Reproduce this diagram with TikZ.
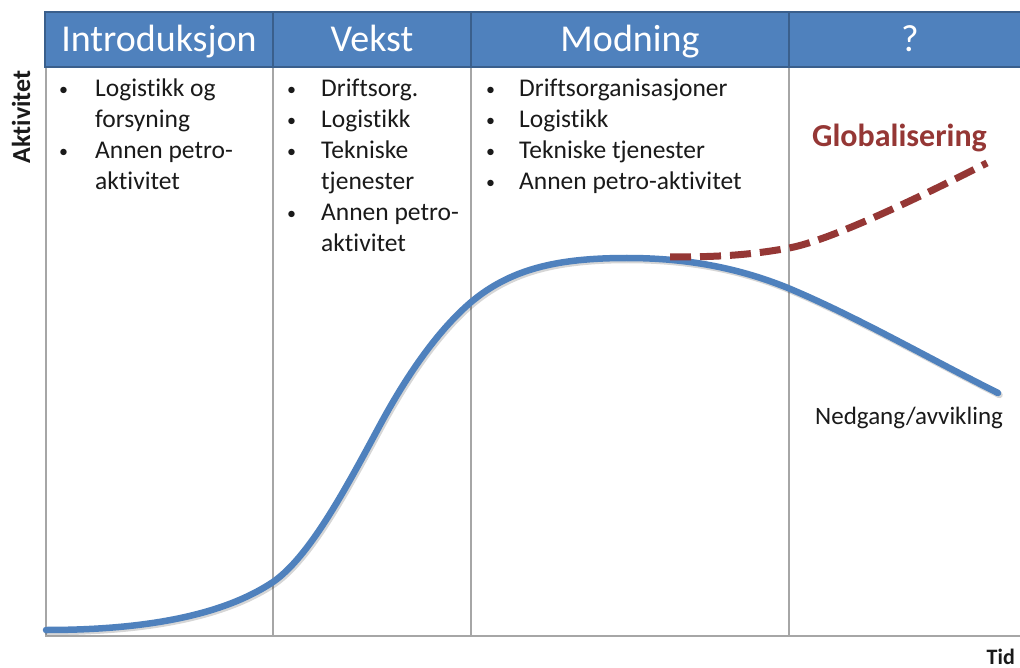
\documentclass[tikz,border=0pt]{standalone}
\usepackage{fontspec}
\setmainfont{Carlito}[Ligatures=NoCommon]
\definecolor{headblue}{HTML}{4F81BD}
\definecolor{headedge}{HTML}{3A5F8C}
\definecolor{gridgray}{HTML}{A6A6A6}
\definecolor{curveblue}{HTML}{4F81BD}
\definecolor{trendred}{HTML}{953735}
\definecolor{inkdark}{HTML}{1A1A1A}
% small list bullet
\newcommand{\itemdot}{\raisebox{1.5pt}{\fontsize{18}{18}\selectfont\textbullet}}
\begin{document}
\begin{tikzpicture}[x=1pt,y=-1pt,
  gridline/.style={draw=gridgray, line width=2pt},
  headcell/.style={draw=headedge, fill=headblue, line width=2pt, text=white,
    inner sep=0pt, minimum height=55pt, text height=40pt, text depth=15pt,
    font=\fontsize{38}{42}\selectfont},
  items/.style={anchor=base west, inner sep=0pt, text=inkdark,
    font=\fontsize{25.5}{31}\selectfont},
  axislabel/.style={inner sep=0pt, text=inkdark},
  lifecurve/.style={draw=curveblue, line width=6.5pt, line cap=round},
  curveshadow/.style={draw=black, opacity=0.16, line width=6.5pt, line cap=round},
  trend/.style={draw=trendred, line width=7pt, dash pattern=on 21pt off 9pt}]
\clip (0,0) rectangle (1020,668);
\fill[white] (0,0) rectangle (1020,668);

% frame and column dividers
\draw[gridline] (46,67) -- (46,636) -- (1020,636);
\foreach \xx in {273,471,789} \draw[gridline] (\xx,67) -- (\xx,636);

% phase headers
\node[headcell, minimum width=228pt] (h1) at (159,39.5) {Introduksjon};
\node[headcell, minimum width=198pt] (h2) at (372,39.5) {Vekst};
\node[headcell, minimum width=318pt] (h3) at (630,39.5) {Modning};
\node[headcell, minimum width=242pt] (h4) at (910,39.5) {?};

% activities per phase
\node[items] (c1) at (59,97) {\begin{tabular}[t]{@{}p{36pt}@{}l@{}}
\itemdot & Logistikk og\\ & forsyning\\
\itemdot & Annen petro-\\ & aktivitet\end{tabular}};
\node[items] (c2) at (287,97) {\begin{tabular}[t]{@{}p{34pt}@{}l@{}}
\itemdot & Driftsorg.\\
\itemdot & Logistikk\\
\itemdot & Tekniske\\ & tjenester\\
\itemdot & Annen petro-\\ & aktivitet\end{tabular}};
\node[items] (c3) at (486,97) {\begin{tabular}[t]{@{}p{33pt}@{}l@{}}
\itemdot & Driftsorganisasjoner\\
\itemdot & Logistikk\\
\itemdot & Tekniske tjenester\\
\itemdot & Annen petro-aktivitet\end{tabular}};

% axis labels
\node[axislabel, rotate=90, font=\bfseries\fontsize{26}{28}\selectfont] (yl) at (21,117) {Aktivitet};
\node[axislabel, anchor=base east, font=\bfseries\fontsize{22}{24}\selectfont] (xl) at (1015,664) {Tid};

% life-cycle curve, first its soft shadow
\begin{scope}[xshift=1.5pt, yshift=-2pt]
\draw[curveshadow] (46,630) .. controls (150,630) and (225,614) .. (273,582)
  .. controls (309,557) and (344,492) .. (380,425)
  .. controls (410,369.5) and (440,329) .. (470,303)
  .. controls (510,269) and (557,258) .. (627,258)
  .. controls (681,258) and (734,266) .. (788,288)
  .. controls (858,317.4) and (928,358) .. (998,393);
\end{scope}
\draw[lifecurve] (46,630) .. controls (150,630) and (225,614) .. (273,582)
  .. controls (309,557) and (344,492) .. (380,425)
  .. controls (410,369.5) and (440,329) .. (470,303)
  .. controls (510,269) and (557,258) .. (627,258)
  .. controls (681,258) and (734,266) .. (788,288)
  .. controls (858,317.4) and (928,358) .. (998,393);

% alternative path
\draw[trend] (670,257) .. controls (720,257) and (750,255) .. (789,248)
  .. controls (830,240.6) and (920,197) .. (987,163);

\node[anchor=base west, inner sep=0pt, text=trendred,
  font=\bfseries\fontsize{32}{36}\selectfont] (glob) at (812,147) {Globalisering};
\node[anchor=base west, inner sep=0pt, text=inkdark,
  font=\fontsize{25}{28}\selectfont] (ned) at (815,424) {Nedgang/avvikling};
\end{tikzpicture}
\end{document}
